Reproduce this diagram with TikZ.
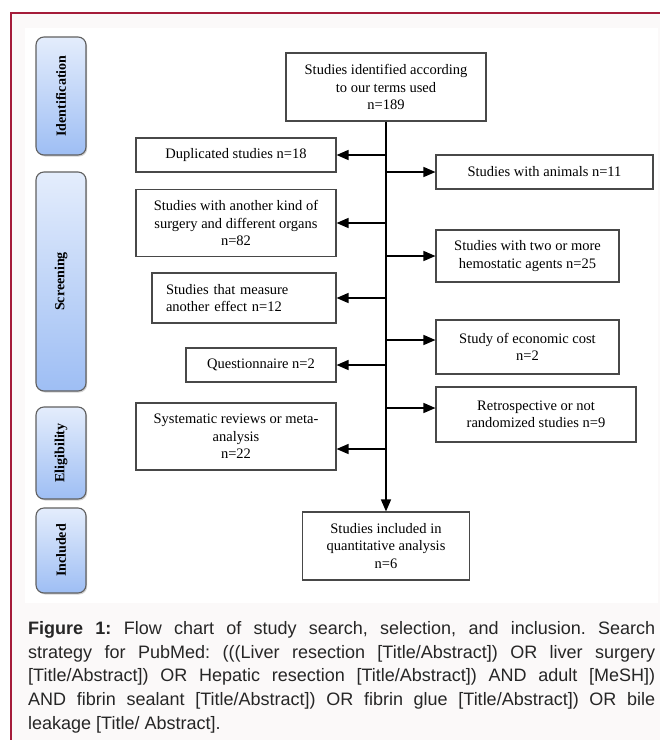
\documentclass[tikz,border=0pt]{standalone}
\usepackage{fontspec}
\setmainfont{Liberation Serif}
\newfontfamily\capfont{Liberation Sans}
\usetikzlibrary{arrows.meta,shadows}

\definecolor{framered}{RGB}{165,28,58}
\definecolor{pagegray}{RGB}{251,249,249}
\definecolor{phasetop}{RGB}{228,237,252}
\definecolor{phasebot}{RGB}{158,190,244}
\definecolor{boxline}{RGB}{72,72,72}

\tikzset{
  stagebox/.style={draw=boxline,line width=1.1pt,fill=white,align=center,inner sep=0pt,
    font=\fontsize{14.5}{17.5}\selectfont},
  phase/.style={draw=gray!75!black,line width=1.1pt,rounded corners=8pt,
    top color=phasetop,bottom color=phasebot,minimum width=50pt,inner sep=0pt,
    font=\bfseries\fontsize{14}{16}\selectfont,
    drop shadow={shadow xshift=1.2pt,shadow yshift=-1.5pt,opacity=0.35}},
  flow/.style={-{Triangle[length=12pt,width=10pt]},line width=1.4pt},
}

\begin{document}
\begin{tikzpicture}[x=1pt,y=-1pt]
  %% page and frame
  \useasboundingbox (0,0) rectangle (660,740);
  \fill[white] (0,0) rectangle (660,740);
  \fill[pagegray] (11,13) rectangle (660,740);
  \draw[framered,line width=1.5pt] (11,740) -- (11,13) -- (660,13);
  \fill[white] (25,28) rectangle (658,603);

  %% phases on the left
  \node[phase,minimum height=118pt] (ident) at (61,96) {\rotatebox{90}{Identification}};
  \node[phase,minimum height=219pt] (screen) at (61,281.5) {\rotatebox{90}{Screening}};
  \node[phase,minimum height=92pt] (elig) at (61,453) {\rotatebox{90}{Eligibility}};
  \node[phase,minimum height=85pt] (incl) at (61,550.5) {\rotatebox{90}{Included}};

  %% main boxes
  \node[stagebox,minimum width=200pt,minimum height=68pt] (found) at (386,87)
    {Studies identified according\\ to our terms used\\ n=189};
  \node[stagebox,minimum width=167pt,minimum height=68pt] (final) at (386,546)
    {Studies included in\\ quantitative analysis\\ n=6};

  %% excluded, left side
  \node[stagebox,minimum width=200pt,minimum height=34pt] (dup) at (236,155)
    {Duplicated studies n=18};
  \node[stagebox,minimum width=200pt,minimum height=67pt] (organ) at (236,223)
    {Studies with another kind of\\ surgery and different organs\\ n=82};
  \node[stagebox,align=left,text width=156pt,inner xsep=14pt,minimum height=50pt] (effect) at (244,298)
    {Studies that measure\\ another effect n=12};
  \node[stagebox,minimum width=150pt,minimum height=34pt] (quest) at (261,365)
    {Questionnaire n=2};
  \node[stagebox,minimum width=200pt,minimum height=67pt] (review) at (236,436.5)
    {Systematic reviews or meta-\\ analysis\\ n=22};

  %% excluded, right side
  \node[stagebox,minimum width=217pt,minimum height=34pt] (animal) at (544.5,172)
    {Studies with animals n=11};
  \node[stagebox,minimum width=183pt,minimum height=52pt] (agents) at (527.5,256)
    {Studies with two or more\\ hemostatic agents n=25};
  \node[stagebox,minimum width=183pt,minimum height=54pt] (cost) at (527.5,347)
    {Study of economic cost\\ n=2};
  \node[stagebox,minimum width=200pt,minimum height=55pt] (retro) at (536,414.5)
    {Retrospective or not\\ randomized studies n=9};

  %% arrows
  \draw[flow] (found.south) -- (final.north);
  \draw[flow] (found.south |- dup.east) -- (dup.east);
  \draw[flow] (found.south |- organ.east) -- (organ.east);
  \draw[flow] (found.south |- effect.east) -- (effect.east);
  \draw[flow] (found.south |- quest.east) -- (quest.east);
  \draw[flow] ([yshift=-12.5pt]review.east -| found.south) -- ([yshift=-12.5pt]review.east);
  \draw[flow] (found.south |- animal.west) -- (animal.west);
  \draw[flow] (found.south |- agents.west) -- (agents.west);
  \draw[flow] ([yshift=7pt]cost.west -| found.south) -- ([yshift=7pt]cost.west);
  \draw[flow] ([yshift=6.5pt]retro.west -| found.south) -- ([yshift=6.5pt]retro.west);

  %% caption
  \node[anchor=north west,inner sep=0pt,text width=627pt,align=justify,text=black!85,
    font=\capfont\fontsize{18}{23.75}\selectfont\frenchspacing] (caption) at (28,621)
    {\textbf{Figure 1:} Flow chart of study search, selection, and inclusion. Search\linebreak{}
     strategy for PubMed: (((Liver resection {[}Title/Abstract]) OR liver surgery\linebreak{}
     {[}Title/Abstract]) OR Hepatic resection {[}Title/Abstract]) AND adult {[}MeSH])\linebreak{}
     AND fibrin sealant {[}Title/Abstract]) OR fibrin glue {[}Title/Abstract]) OR bile\linebreak{}
     leakage {[}Title/ Abstract].};
\end{tikzpicture}
\end{document}
